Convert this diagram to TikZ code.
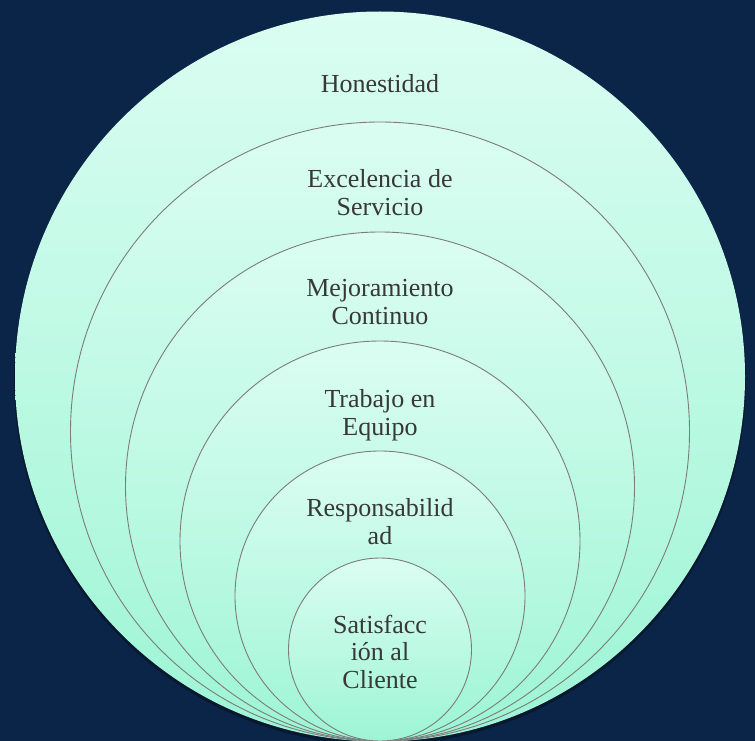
\documentclass[tikz,border=0pt]{standalone}
\usepackage{fontspec}
\setmainfont{Liberation Serif}
\definecolor{bg}{HTML}{0B2549}
\definecolor{topc}{HTML}{DBFDF2}
\definecolor{botc}{HTML}{9DF5D5}
\definecolor{ringc}{HTML}{7C7C7C}
\definecolor{txt}{HTML}{383838}
\begin{document}
\begin{tikzpicture}[x=1pt,y=-1pt,
  ringnode/.style={circle, inner sep=0pt, minimum size=#1, top color=topc, bottom color=botc, draw=ringc, line width=0.9pt},
  outernode/.style={circle, inner sep=0pt, minimum size=#1, top color=topc, bottom color=botc},
  lbl/.style={font=\fontsize{26}{27.5}\selectfont, text=txt, align=center, anchor=base, inner sep=0pt}]
\useasboundingbox (0,0) rectangle (755,741);
\fill[bg] (0,0) rectangle (755,741);
\begin{scope}
\clip (0,0) rectangle (755,741);
\fill[black, opacity=0.35] (380,379) circle (366);
\node[outernode=730pt] (c1) at (380,376.5) {};
\node[ringnode=619pt] (c2) at (380,431.5) {};
\node[ringnode=509pt] (c3) at (380,486.5) {};
\node[ringnode=400pt] (c4) at (380,541) {};
\node[ringnode=290pt] (c5) at (380,596) {};
\node[ringnode=183pt] (c6) at (380,649.5) {};
\end{scope}
\node[lbl] (t1) at (380,93) {Honestidad};
\node[lbl] (t2) at (380,215) {Excelencia de\\Servicio};
\node[lbl] (t3) at (380,324) {Mejoramiento\\Continuo};
\node[lbl] (t4) at (380,435) {Trabajo en\\Equipo};
\node[lbl] (t5) at (380,544) {Responsabilid\\ad};
\node[lbl] (t6) at (380,688) {Satisfacc\\ión al\\Cliente};
\end{tikzpicture}
\end{document}
